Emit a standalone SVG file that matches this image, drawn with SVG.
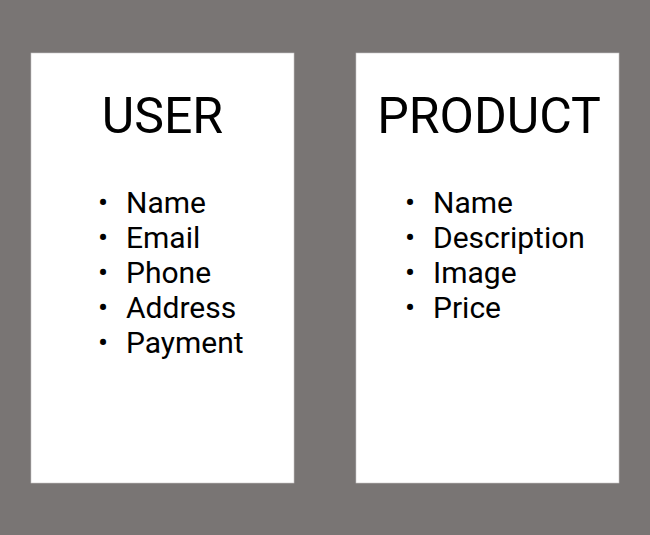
<svg xmlns="http://www.w3.org/2000/svg" width="650" height="535" viewBox="0 0 650 535">
<style>
.card{fill:#ffffff;stroke:#c8c6c5;stroke-width:0.6}
.title{font-family:Roboto,"Liberation Sans",sans-serif;font-size:50px;fill:#000000;text-anchor:middle}
.item{font-family:Roboto,"Liberation Sans",sans-serif;font-size:30px;fill:#000000}
.bullet{font-family:Roboto,"Liberation Sans",sans-serif;font-size:30px;fill:#000000;text-anchor:middle}
</style>
<rect x="0" y="0" width="650" height="535" fill="#797574"/>
<g id="connectors"></g>
<g id="user">
<rect class="card" x="31" y="53" width="263" height="430"/>
<text class="title" x="162.5" y="133">USER</text>
<text class="bullet" x="103" y="213">•</text><text class="item" x="126" y="213">Name</text>
<text class="bullet" x="103" y="248">•</text><text class="item" x="126" y="248">Email</text>
<text class="bullet" x="103" y="283">•</text><text class="item" x="126" y="283">Phone</text>
<text class="bullet" x="103" y="318">•</text><text class="item" x="126" y="318">Address</text>
<text class="bullet" x="103" y="353">•</text><text class="item" x="126" y="353">Payment</text>
</g>
<g id="product">
<rect class="card" x="356" y="53" width="263" height="430"/>
<text class="title" x="489" y="133">PRODUCT</text>
<text class="bullet" x="410" y="213">•</text><text class="item" x="433" y="213">Name</text>
<text class="bullet" x="410" y="248">•</text><text class="item" x="433" y="248">Description</text>
<text class="bullet" x="410" y="283">•</text><text class="item" x="433" y="283">Image</text>
<text class="bullet" x="410" y="318">•</text><text class="item" x="433" y="318">Price</text>
</g>
</svg>
